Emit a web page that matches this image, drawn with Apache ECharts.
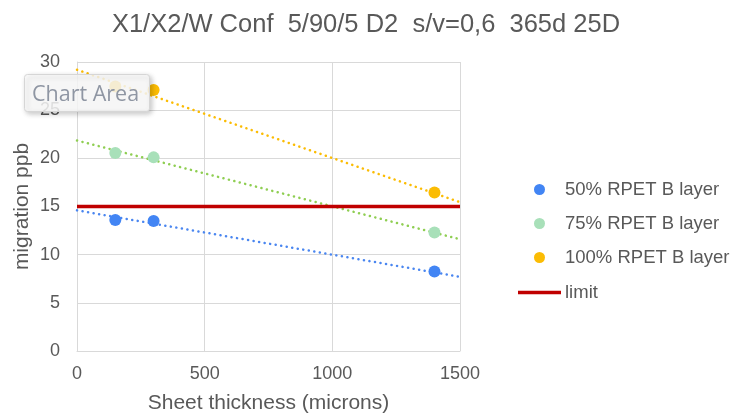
<!DOCTYPE html>
<html>
<head>
<meta charset="utf-8">
<script src="https://cdn.jsdelivr.net/npm/echarts@6/dist/echarts.min.js"></script>
<style>
html,body{margin:0;padding:0;background:#fff;}
#main{width:732px;height:420px;}
</style>
</head>
<body>
<div id="main"></div>
<script>
var titleText = 'X1/X2/W Conf  5/90/5 D2  s/v=0,6  365d 25D';
var seriesNames = ['50% RPET B layer', '75% RPET B layer', '100% RPET B layer'];
var thickness = [150, 300, 1400];
var rpet50 = [13.6, 13.5, 8.25];
var rpet75 = [20.55, 20.1, 12.3];
var rpet100 = [27.45, 27.1, 16.45];
var trendX = [0, 1500];
var trend50 = [14.6, 7.7];
var trend75 = [21.85, 11.6];
var trend100 = [29.2, 15.45];
var limitX = [0, 1500];
var limitY = [15, 15];
var xTicks = [0, 500, 1000, 1500];
var yTicks = [0, 5, 10, 15, 20, 25, 30];

function pairs(xs, ys){ return xs.map(function(x,i){ return [x, ys[i]]; }); }

var FONT = '"Liberation Sans", Arial, sans-serif';
var markerColors = ['#4285f4', '#a8e0b9', '#fbbc04'];
var trendColors = ['#4a86f0', '#8fce52', '#fbbc04'];
var values = [rpet50, rpet75, rpet100];
var trends = [trend50, trend75, trend100];

var series = [];
values.forEach(function(v, i){
  series.push({
    name: seriesNames[i], type: 'line', data: pairs(trendX, trends[i]),
    showSymbol: false, symbol: 'none', silent: true, z: 2,
    lineStyle: {color: trendColors[i], width: 2.5, type: [0.1, 5.5], cap: 'round'}
  });
});
values.forEach(function(v, i){
  series.push({
    name: seriesNames[i], type: 'scatter', data: pairs(thickness, v),
    symbol: 'circle', symbolSize: 12, z: 4,
    itemStyle: {color: markerColors[i], opacity: 1}
  });
});
series.push({
  name: 'limit', type: 'line', data: pairs(limitX, limitY),
  symbol: 'none', z: 3,
  lineStyle: {color: '#c00000', width: 3.5}, itemStyle: {color: '#c00000'}
});

var chart = echarts.init(document.getElementById('main'));
chart.setOption({
  animation: false,
  backgroundColor: '#ffffff',
  textStyle: {fontFamily: FONT},
  title: {
    text: titleText, left: 'center', top: 7,
    textStyle: {fontSize: 25.5, fontWeight: 'normal', color: '#595959', fontFamily: FONT}
  },
  grid: {left: 77, right: 272, top: 62, bottom: 69, containLabel: false},
  legend: [{
    data: seriesNames.map(function(n, i){ return {name: n, icon: 'circle', itemStyle: {color: markerColors[i]}}; }),
    orient: 'vertical', left: 529, top: 175,
    itemWidth: 11, itemHeight: 11, itemGap: 15,
    textStyle: {fontSize: 18.5, color: '#595959', fontFamily: FONT, padding: [0, 0, 0, 15]},
    selectedMode: false
  }, {
    data: [{name: 'limit', icon: 'rect', itemStyle: {color: '#c00000'}}],
    orient: 'vertical', left: 513, top: 278,
    itemWidth: 43, itemHeight: 3.5, itemGap: 10,
    textStyle: {fontSize: 18.5, color: '#595959', fontFamily: FONT, padding: [0, 0, 0, -1]},
    selectedMode: false
  }],
  xAxis: {
    type: 'value', min: 0, max: 1500, interval: 500,
    name: 'Sheet thickness (microns)', nameLocation: 'middle', nameGap: 42,
    nameMoveOverlap: false,
    nameTextStyle: {fontSize: 21, color: '#595959', fontFamily: FONT},
    axisLine: {show: true, lineStyle: {color: '#d9d9d9'}},
    axisTick: {show: false},
    axisLabel: {fontSize: 18, color: '#595959', margin: 14, fontFamily: FONT,
      formatter: function(v){ return xTicks.indexOf(v) >= 0 ? String(v) : ''; }},
    splitLine: {show: true, lineStyle: {color: '#d9d9d9', width: 1}}
  },
  yAxis: {
    type: 'value', min: 0, max: 30, interval: 5,
    name: 'migration ppb', nameLocation: 'middle', nameGap: 44,
    nameMoveOverlap: false,
    nameTextStyle: {fontSize: 21, color: '#595959', fontFamily: FONT},
    axisLine: {show: true, lineStyle: {color: '#d9d9d9'}},
    axisTick: {show: false},
    axisLabel: {fontSize: 18, color: '#595959', margin: 17, fontFamily: FONT,
      formatter: function(v){ return yTicks.indexOf(v) >= 0 ? String(v) : ''; }},
    splitLine: {show: true, lineStyle: {color: '#d9d9d9', width: 1}}
  },
  series: series,
  graphic: [{
    type: 'rect', left: 24, top: 74, z: 100,
    shape: {width: 125, height: 37, r: 3},
    style: {fill: 'rgba(255,255,255,0.82)', stroke: '#d6d6d6', lineWidth: 1,
      shadowBlur: 5, shadowColor: 'rgba(0,0,0,0.25)', shadowOffsetX: 2, shadowOffsetY: 2}
  }, {
    type: 'text', left: 32, top: 84, z: 101,
    style: {text: 'Chart Area', fontSize: 21.5, fill: '#8f96a3', fontFamily: '"Open Sans", "Noto Sans", sans-serif'}
  }]
});
</script>
</body>
</html>
